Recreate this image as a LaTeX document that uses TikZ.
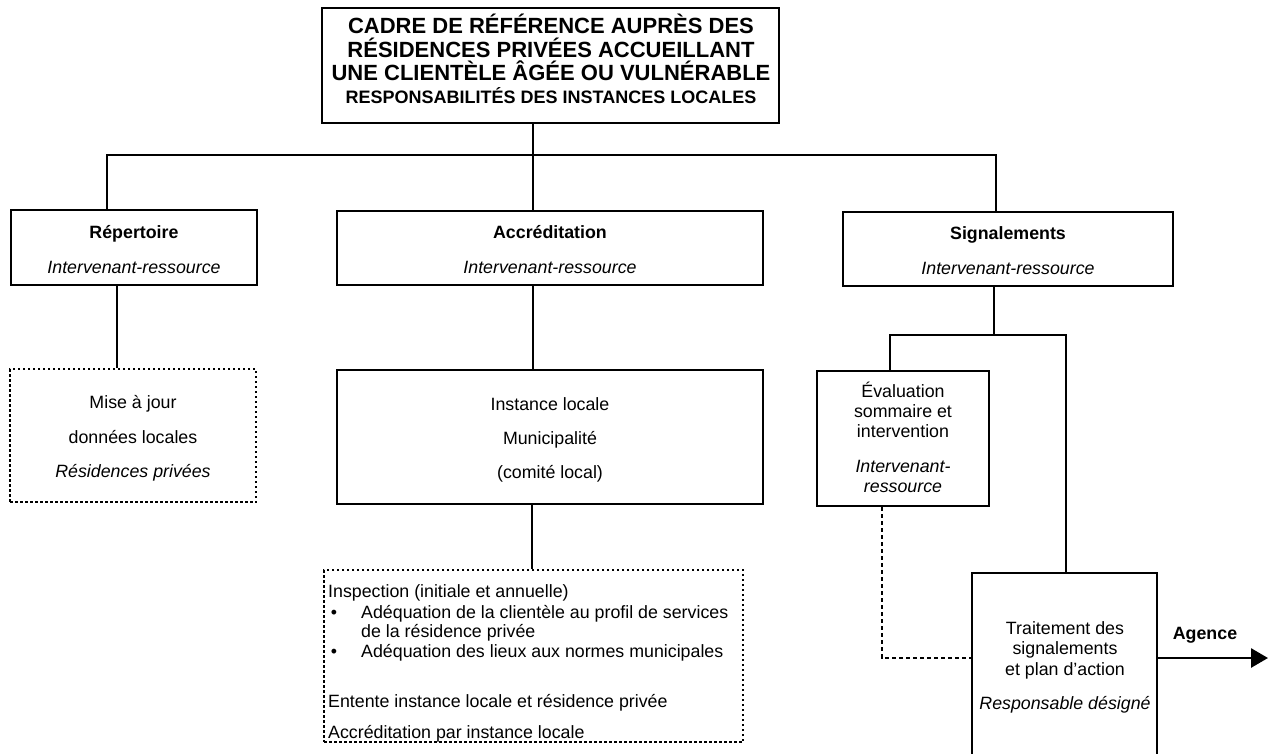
\documentclass[tikz,border=0pt]{standalone}
\usepackage{fontspec}
\setmainfont{Liberation Sans}
\usetikzlibrary{arrows.meta}
\newcommand\fsz{\fontsize{17.8}{20}\selectfont}
\newcommand\ftitle{\fontsize{22}{23}\selectfont\bfseries}
\newcommand\fsub{\fontsize{18}{20}\selectfont\bfseries}
\begin{document}
\begin{tikzpicture}[x=1pt,y=-1pt,
  box/.style={draw, line width=2.8pt, inner sep=0, rectangle},
  dbox/.style={draw, line width=1.1pt, dash pattern=on 2.5pt off 2.5pt, inner sep=0, rectangle},
  conn/.style={line width=2.8pt},
  dconn/.style={line width=1.3pt, dash pattern=on 4pt off 3pt},
  t/.style={anchor=base, inner sep=0, font=\fsz},
  tb/.style={t, font=\fsz\bfseries},
  ti/.style={t, font=\fsz\itshape},
  tl/.style={anchor=base west, inner sep=0, font=\fsz}]
\useasboundingbox (0,0) rectangle (1275,753);
\clip (0,0) rectangle (1275,753);
\fill[white] (0,0) rectangle (1275,753);

% title
\node[box, minimum width=457pt, minimum height=115pt] (title) at (550.5,65.5) {};
\node[t, font=\ftitle] (ttl1) at (551,33) {CADRE DE RÉFÉRENCE AUPRÈS DES};
\node[t, font=\ftitle] (ttl2) at (551,57) {RÉSIDENCES PRIVÉES ACCUEILLANT};
\node[t, font=\ftitle] (ttl3) at (551,80) {UNE CLIENTÈLE ÂGÉE OU VULNÉRABLE};
\node[t, font=\fsub] (ttl4) at (551,103) {RESPONSABILITÉS DES INSTANCES LOCALES};

% second level
\node[box, minimum width=246pt, minimum height=75pt] (rep) at (134,247.5) {};
\node[tb] (repa) at (134,238) {Répertoire};
\node[ti] (repb) at (134,273) {Intervenant-ressource};

\node[box, minimum width=426pt, minimum height=74pt] (acc) at (550,248) {};
\node[tb] (acca) at (550,238) {Accréditation};
\node[ti] (accb) at (550,273) {Intervenant-ressource};

\node[box, minimum width=330pt, minimum height=74pt] (sig) at (1008,249) {};
\node[tb] (siga) at (1008,239) {Signalements};
\node[ti] (sigb) at (1008,274) {Intervenant-ressource};

% third level
\node[dbox, minimum width=246pt, minimum height=133pt] (maj) at (133,435.5) {};
\node[t] (maja) at (133,408) {Mise à jour};
\node[t] (majb) at (133,443) {données locales};
\node[ti] (majc) at (133,477) {Résidences privées};

\node[box, minimum width=426pt, minimum height=134pt] (inst) at (550,437) {};
\node[t] (insta) at (550,410) {Instance locale};
\node[t] (instb) at (550,444) {Municipalité};
\node[t] (instc) at (550,478) {(comité local)};

\node[dbox, minimum width=419pt, minimum height=172pt] (insp) at (533.5,656) {};
\node[tl] (inspa) at (328,597) {Inspection (initiale et annuelle)};
\node[t] (bul1) at (334,618) {•};
\node[tl] (inspb) at (361,618) {Adéquation de la clientèle au profil de services};
\node[tl] (inspc) at (361,637) {de la résidence privée};
\node[t] (bul2) at (334,657) {•};
\node[tl] (inspd) at (361,657) {Adéquation des lieux aux normes municipales};
\node[tl] (inspe) at (328,707) {Entente instance locale et résidence privée};
\node[tl] (inspf) at (328,738) {Accréditation par instance locale};

\node[box, minimum width=172pt, minimum height=135pt] (eval) at (903,438.5) {};
\node[t] (evala) at (903,397) {Évaluation};
\node[t] (evalb) at (903,417) {sommaire et};
\node[t] (evalc) at (903,437) {intervention};
\node[ti] (evald) at (903,472) {Intervenant-};
\node[ti] (evale) at (903,492) {ressource};

\node[box, minimum width=185pt, minimum height=227pt] (trait) at (1064.5,686.5) {};
\node[t] (traita) at (1065,634) {Traitement des};
\node[t] (traitb) at (1065,654) {signalements};
\node[t] (traitc) at (1065,675) {et plan d’action};
\node[ti] (traitd) at (1065,709) {Responsable désigné};

\node[tb] (agence) at (1205,639) {Agence};

% connectors
\coordinate (bar) at (533,155);
\coordinate (bL) at (107,155);
\coordinate (bR) at (996,155);
\draw[conn] (title.south -| bar) -- (bar);
\draw[conn] (rep.north -| bL) -- (bL) -- (bR) -- (sig.north -| bR);
\draw[conn] (bar) -- (acc.north -| bar);

\coordinate (xr) at (117,0);
\draw[conn] (rep.south -| xr) -- (maj.north -| xr);
\draw[conn] (acc.south -| bar) -- (inst.north -| bar);
\coordinate (xi) at (532,0);
\draw[conn] (inst.south -| xi) -- (insp.north -| xi);

\coordinate (s1) at (994,335);
\coordinate (sl) at (890,335);
\coordinate (sr) at (1066,335);
\draw[conn] (sig.south -| s1) -- (s1);
\draw[conn] (eval.north -| sl) -- (sl) -- (sr) -- (trait.north -| sr);

\coordinate (dx) at (882,0);
\coordinate (dy) at (0,658);
\draw[dconn] (eval.south -| dx) |- (trait.west |- dy);

\coordinate (aend) at (1268,658);
\draw[conn, -{Triangle[length=17pt,width=19pt]}] (trait.east |- dy) -- (aend);
\end{tikzpicture}
\end{document}
